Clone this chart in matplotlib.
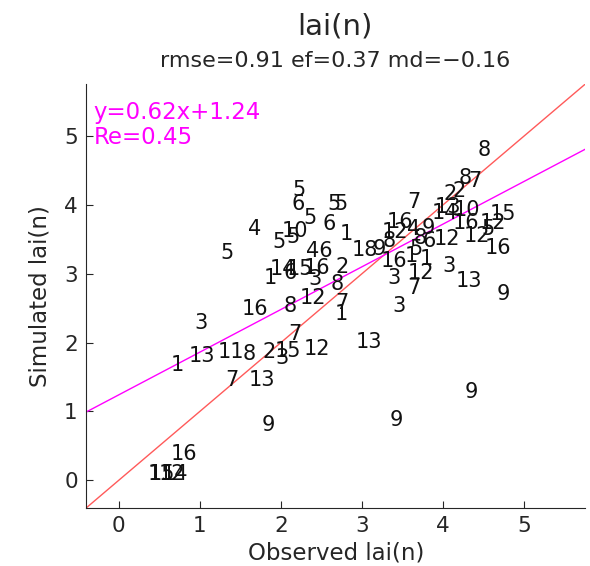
import numpy as np
import matplotlib
matplotlib.use("Agg")
import matplotlib.pyplot as plt

# site numbers plotted at (observed, simulated) lai
site = ["8", "8", "7", "2", "2", "7", "5", "6", "5", "5",
        "5", "6", "4", "10", "5", "5", "5", "1", "46", "1",
        "14", "6", "15", "16", "2", "3", "8", "12", "7", "1",
        "16", "8", "3", "7", "1", "13", "11", "8", "2", "15",
        "3", "12", "7", "13", "13", "9", "9", "9", "16", "1",
        "15", "12", "14", "3", "3", "12", "7", "3", "13", "9",
        "16", "12", "12", "15", "12", "5", "14", "13", "10", "16",
        "16", "12", "8", "18", "9", "16", "4", "9", "8", "6",
        "1", "1", "5"]
observed = [4.50, 4.27, 4.39, 4.09, 4.20, 3.64, 2.22, 2.21, 2.36, 2.66,
            2.74, 2.59, 1.67, 2.17, 2.15, 1.98, 1.34, 2.81, 2.47, 1.87,
            2.02, 2.12, 2.23, 2.45, 2.75, 2.42, 2.69, 2.39, 2.75, 2.75,
            1.68, 2.11, 1.01, 2.17, 0.72, 1.03, 1.39, 1.61, 1.85, 2.09,
            2.01, 2.44, 1.40, 1.77, 3.08, 1.85, 3.42, 4.34, 0.81, 0.44,
            0.54, 0.66, 0.69, 3.39, 3.45, 3.73, 3.64, 4.07, 4.32, 4.74,
            4.67, 4.05, 4.42, 4.74, 4.61, 4.55, 4.02, 4.06, 4.29, 4.28,
            3.47, 3.40, 3.34, 3.04, 3.21, 3.39, 3.64, 3.82, 3.72, 3.83,
            3.79, 3.61, 3.66]
simulated = [4.79, 4.38, 4.35, 4.16, 4.20, 4.04, 4.22, 4.01, 3.81, 4.01,
             4.01, 3.72, 3.65, 3.62, 3.53, 3.46, 3.30, 3.58, 3.33, 2.93,
             3.07, 3.01, 3.07, 3.08, 3.09, 2.92, 2.85, 2.64, 2.58, 2.41,
             2.48, 2.53, 2.28, 2.13, 1.68, 1.80, 1.87, 1.84, 1.87, 1.88,
             1.78, 1.90, 1.46, 1.46, 2.01, 0.80, 0.88, 1.28, 0.38, 0.10,
             0.10, 0.10, 0.10, 2.93, 2.53, 3.01, 2.79, 3.11, 2.89, 2.70,
             3.37, 3.50, 3.55, 3.87, 3.74, 3.65, 3.88, 3.97, 3.93, 3.74,
             3.75, 3.61, 3.47, 3.34, 3.36, 3.18, 3.65, 3.66, 3.52, 3.47,
             3.21, 3.26, 3.36]

slope, intercept = 0.62, 1.24
re = 0.45
rmse, ef, md = 0.91, 0.37, -0.16

ink = "#262626"
lims = (-0.4, 5.75)

fig = plt.figure(figsize=(5.9, 5.66), dpi=100)
ax = fig.add_axes([0.146, 0.1025, 0.846, 0.749])

for s, x, y in zip(site, observed, simulated):
    ax.text(x, y, s, ha="center", va="center", fontsize=15, color="#111111")

xx = np.array(lims)
ax.plot(xx, xx, color="#ff5a5a", lw=1.0)
ax.plot(xx, slope * xx + intercept, color="#ff00ff", lw=1.0)

ax.text(0.015, 0.934, f"y={slope:.2f}x+{intercept:.2f}", transform=ax.transAxes,
        color="#ff00ff", fontsize=16.5, ha="left", va="center")
ax.text(0.015, 0.873, f"Re={re:.2f}", transform=ax.transAxes,
        color="#ff00ff", fontsize=16.5, ha="left", va="center")

ax.set_xlim(lims)
ax.set_ylim(lims)
ax.set_xticks(range(0, 6))
ax.set_yticks(range(0, 6))
ax.spines["top"].set_visible(False)
ax.spines["right"].set_visible(False)
for sp in ("left", "bottom"):
    ax.spines[sp].set_color(ink)
ax.tick_params(direction="in", length=5, colors=ink, labelsize=15.5, pad=6)

ax.set_xlabel("Observed lai(n)", fontsize=16.5, color=ink)
ax.set_ylabel("Simulated lai(n)", fontsize=16.5, color=ink, labelpad=9)

fig.text(0.568, 0.953, "lai(n)", ha="center", va="center", fontsize=21, color=ink)
fig.text(0.568, 0.892, f"rmse={rmse:.2f} ef={ef:.2f} md=\u2212{abs(md):.2f}",
         ha="center", va="center", fontsize=16, color=ink)

fig.savefig("out.png", dpi=100)
